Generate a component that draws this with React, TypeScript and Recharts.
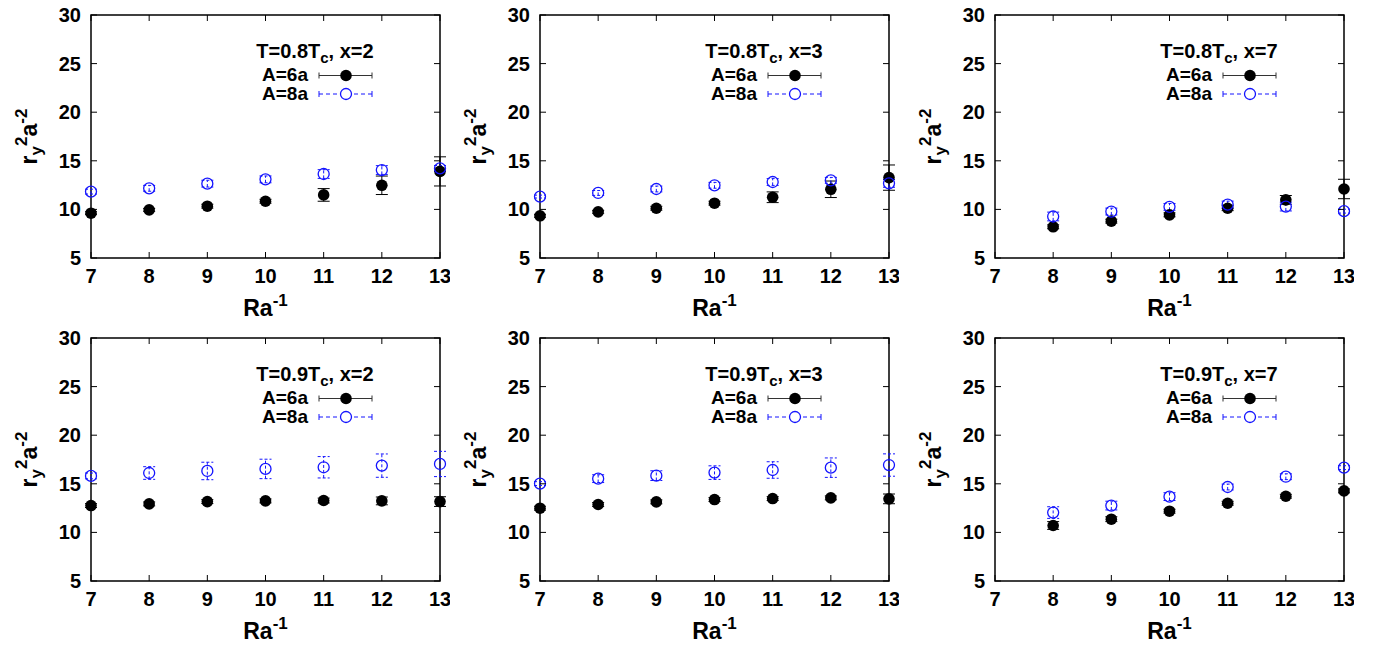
import { ScatterChart, Scatter, XAxis, YAxis, ErrorBar, ReferenceArea, Customized } from 'recharts'

// x values (Ra^-1)
const RA_FULL = [7, 8, 9, 10, 11, 12, 13]
const RA_SHORT = [8, 9, 10, 11, 12, 13]
const X_TICKS = [7, 8, 9, 10, 11, 12, 13]
const Y_TICKS = [5, 10, 15, 20, 25, 30]

// T=0.8Tc
const T08_X2_A6 = [9.61, 9.95, 10.33, 10.84, 11.49, 12.48, 13.91]
const T08_X2_A6_ERR = [0.15, 0.15, 0.2, 0.2, 0.65, 0.95, 1.5]
const T08_X2_A8 = [11.83, 12.17, 12.65, 13.09, 13.64, 14.05, 14.22]
const T08_X2_A8_ERR = [0.25, 0.3, 0.35, 0.35, 0.45, 0.45, 0.3]

const T08_X3_A6 = [9.34, 9.75, 10.12, 10.64, 11.25, 12.07, 13.27]
const T08_X3_A6_ERR = [0.15, 0.15, 0.2, 0.2, 0.55, 0.85, 1.3]
const T08_X3_A8 = [11.32, 11.69, 12.1, 12.48, 12.82, 12.99, 12.68]
const T08_X3_A8_ERR = [0.15, 0.25, 0.3, 0.3, 0.35, 0.3, 0.4]

const T08_X7_A6 = [8.21, 8.79, 9.44, 10.12, 10.98, 12.1]
const T08_X7_A6_ERR = [0.2, 0.2, 0.2, 0.25, 0.45, 1.0]
const T08_X7_A8 = [9.27, 9.78, 10.26, 10.5, 10.29, 9.82]
const T08_X7_A8_ERR = [0.45, 0.35, 0.35, 0.35, 0.45, 0.2]

// T=0.9Tc
const T09_X2_A6 = [12.76, 12.93, 13.17, 13.24, 13.28, 13.24, 13.17]
const T09_X2_A6_ERR = [0.2, 0.2, 0.2, 0.2, 0.25, 0.4, 0.5]
const T09_X2_A8 = [15.81, 16.11, 16.32, 16.53, 16.7, 16.87, 17.04]
const T09_X2_A8_ERR = [0.3, 0.65, 0.9, 1.0, 1.1, 1.2, 1.3]

const T09_X3_A6 = [12.49, 12.87, 13.14, 13.38, 13.48, 13.55, 13.45]
const T09_X3_A6_ERR = [0.2, 0.2, 0.2, 0.2, 0.2, 0.2, 0.5]
const T09_X3_A8 = [15.02, 15.53, 15.84, 16.15, 16.42, 16.66, 16.93]
const T09_X3_A8_ERR = [0.2, 0.4, 0.5, 0.7, 0.85, 1.0, 1.15]

const T09_X7_A6 = [10.71, 11.36, 12.18, 13.0, 13.72, 14.27]
const T09_X7_A6_ERR = [0.4, 0.25, 0.2, 0.2, 0.2, 0.2]
const T09_X7_A8 = [12.04, 12.76, 13.68, 14.67, 15.73, 16.66]
const T09_X7_A8_ERR = [0.6, 0.45, 0.4, 0.3, 0.3, 0.2]

const FONT = '"Liberation Sans", Arial, sans-serif'
const BLUE = '#1414ff'
const CHART_W = 439
const CHART_H = 323
const PLOT_L = 80
const PLOT_T = 15
const PLOT_W = 349
const PLOT_H = 243

const toRows = (xs: number[], ys: number[], es: number[]) =>
  xs.map((x, i) => ({ x, y: ys[i], e: es[i] }))

const panels = [
  { temp: '0.8', xv: '2', xs: RA_FULL, a6: T08_X2_A6, a6e: T08_X2_A6_ERR, a8: T08_X2_A8, a8e: T08_X2_A8_ERR, left: 11, top: 0 },
  { temp: '0.8', xv: '3', xs: RA_FULL, a6: T08_X3_A6, a6e: T08_X3_A6_ERR, a8: T08_X3_A8, a8e: T08_X3_A8_ERR, left: 460, top: 0 },
  { temp: '0.8', xv: '7', xs: RA_SHORT, a6: T08_X7_A6, a6e: T08_X7_A6_ERR, a8: T08_X7_A8, a8e: T08_X7_A8_ERR, left: 915, top: 0 },
  { temp: '0.9', xv: '2', xs: RA_FULL, a6: T09_X2_A6, a6e: T09_X2_A6_ERR, a8: T09_X2_A8, a8e: T09_X2_A8_ERR, left: 11, top: 323 },
  { temp: '0.9', xv: '3', xs: RA_FULL, a6: T09_X3_A6, a6e: T09_X3_A6_ERR, a8: T09_X3_A8, a8e: T09_X3_A8_ERR, left: 460, top: 323 },
  { temp: '0.9', xv: '7', xs: RA_SHORT, a6: T09_X7_A6, a6e: T09_X7_A6_ERR, a8: T09_X7_A8, a8e: T09_X7_A8_ERR, left: 915, top: 323 },
]

function XTick({ x, y, payload }: any) {
  return (
    <g>
      <line x1={x} x2={x} y1={y} y2={y - 6} stroke="#000" />
      <line x1={x} x2={x} y1={y - PLOT_H} y2={y - PLOT_H + 6} stroke="#000" />
      <text x={x} y={y + 25} textAnchor="middle" fontSize={20} fontWeight="bold" fontFamily={FONT} fill="#000">
        {payload.value}
      </text>
    </g>
  )
}

function YTick({ x, y, payload }: any) {
  return (
    <g>
      <line x1={x} x2={x + 6} y1={y} y2={y} stroke="#000" />
      <line x1={x + PLOT_W - 6} x2={x + PLOT_W} y1={y} y2={y} stroke="#000" />
      <text x={x - 10} y={y + 7} textAnchor="end" fontSize={20} fontWeight="bold" fontFamily={FONT} fill="#000">
        {payload.value}
      </text>
    </g>
  )
}

const dot6 = (p: any) => <circle cx={p.cx} cy={p.cy} r={5.8} fill="#000" />
const dot8 = (p: any) => <circle cx={p.cx} cy={p.cy} r={5.5} fill="none" stroke={BLUE} strokeWidth={1.3} />

function Decor({ temp, xv }: { temp: string; xv: string }) {
  const L = PLOT_L
  const T = PLOT_T
  const ly = L - 54
  const my = T + PLOT_H / 2
  return (
    <g fontFamily={FONT} fontWeight="bold" fill="#000">
      <text x={L + 224} y={T + 43} textAnchor="middle" fontSize={20}>
        {`T=${temp}T`}
        <tspan fontSize={15} dy={5}>c</tspan>
        <tspan dy={-5}>{`, x=${xv}`}</tspan>
      </text>
      <text x={L + 217} y={T + 66} textAnchor="end" fontSize={19}>A=6a</text>
      <line x1={L + 228} x2={L + 281} y1={T + 60.5} y2={T + 60.5} stroke="#333" />
      <line x1={L + 228} x2={L + 228} y1={T + 57.5} y2={T + 63.5} stroke="#333" />
      <line x1={L + 281} x2={L + 281} y1={T + 57.5} y2={T + 63.5} stroke="#333" />
      <circle cx={L + 255} cy={T + 60.5} r={5.8} fill="#000" />
      <text x={L + 217} y={T + 85} textAnchor="end" fontSize={19}>A=8a</text>
      <line x1={L + 228} x2={L + 281} y1={T + 79} y2={T + 79} stroke={BLUE} strokeDasharray="4 3" />
      <line x1={L + 228} x2={L + 228} y1={T + 76} y2={T + 82} stroke={BLUE} />
      <line x1={L + 281} x2={L + 281} y1={T + 76} y2={T + 82} stroke={BLUE} />
      <circle cx={L + 255} cy={T + 79} r={5.5} fill="#fff" stroke={BLUE} strokeWidth={1.3} />
      <text x={ly} y={my} transform={`rotate(-90 ${ly} ${my})`} textAnchor="middle" fontSize={23}>
        r
        <tspan fontSize={17} dy={5}>y</tspan>
        <tspan fontSize={17} dy={-15}>2</tspan>
        <tspan dy={10}>a</tspan>
        <tspan fontSize={17} dy={-10}>-2</tspan>
      </text>
      <text x={L + PLOT_W / 2} y={T + PLOT_H + 58} textAnchor="middle" fontSize={23}>
        Ra
        <tspan fontSize={17} dy={-10}>-1</tspan>
      </text>
    </g>
  )
}

function Panel(p: (typeof panels)[number]) {
  const d6 = toRows(p.xs, p.a6, p.a6e)
  const d8 = toRows(p.xs, p.a8, p.a8e)
  return (
    <div style={{ position: 'absolute', left: p.left, top: p.top }}>
      <ScatterChart width={CHART_W} height={CHART_H} margin={{ top: PLOT_T, right: 10, bottom: 5, left: 0 }}>
        <XAxis type="number" dataKey="x" domain={[7, 13]} ticks={X_TICKS} interval={0}
          height={60} tickSize={0} tickMargin={0} axisLine={false} tickLine={false} tick={<XTick />} />
        <YAxis type="number" dataKey="y" domain={[5, 30]} ticks={Y_TICKS} interval={0}
          width={PLOT_L} tickSize={0} tickMargin={0} axisLine={false} tickLine={false} tick={<YTick />} />
        <ReferenceArea x1={7} x2={13} y1={5} y2={30} fill="none" stroke="#000" strokeWidth={1.5} fillOpacity={0} />
        <Scatter data={d6} shape={dot6} isAnimationActive={false}>
          <ErrorBar dataKey="e" direction="y" width={6} stroke="#000" strokeWidth={1} isAnimationActive={false} />
        </Scatter>
        <Scatter data={d8} shape={dot8} isAnimationActive={false}>
          <ErrorBar dataKey="e" direction="y" width={6} stroke={BLUE} strokeWidth={1} strokeDasharray="3 2" isAnimationActive={false} />
        </Scatter>
        <Customized component={<Decor temp={p.temp} xv={p.xv} />} />
      </ScatterChart>
    </div>
  )
}

export default function App() {
  return (
    <div style={{ position: 'absolute', left: 0, top: 0, width: 1375, height: 646, background: '#fff' }}>
      {panels.map((p, i) => <Panel key={i} {...p} />)}
    </div>
  )
}
